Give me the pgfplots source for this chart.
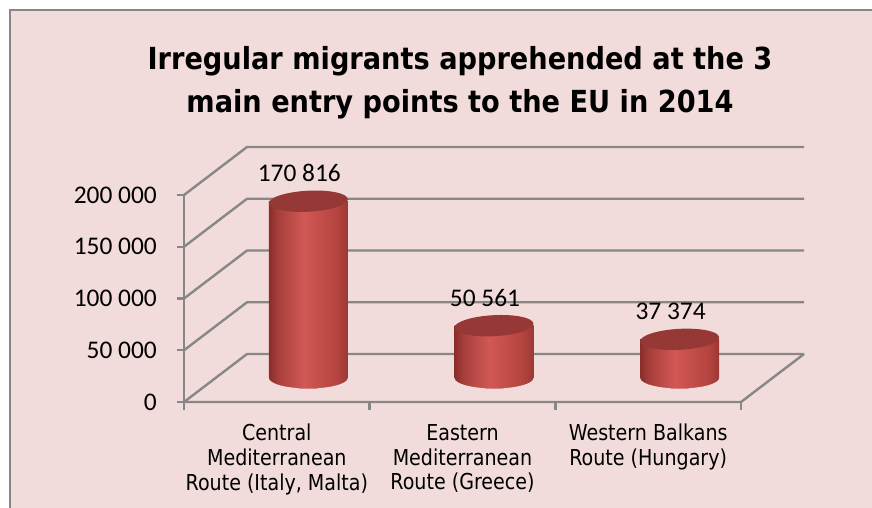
\documentclass[border=0pt]{standalone}
\usepackage{pgfplots}
\pgfplotsset{compat=1.18}
\usepackage{fontspec}
\setmainfont{Carlito}
\newfontfamily\tah{DejaVu Sans}[FakeStretch=0.87]
\newfontfamily\tahtitle{DejaVu Sans}[FakeStretch=0.895]
\definecolor{bg}{HTML}{F2DCDB}
\definecolor{gridc}{HTML}{878787}
\definecolor{cdark}{HTML}{8A2D2A}
\definecolor{cmidA}{HTML}{A83F3C}
\definecolor{clight}{HTML}{D15855}
\definecolor{cmidB}{HTML}{B5443F}
\definecolor{cright}{HTML}{9C3835}
\definecolor{ctop}{HTML}{963836}
\pgfdeclarehorizontalshading{cyl}{100bp}{color(0bp)=(cdark); color(25bp)=(cdark); color(31bp)=(cmidA); color(47bp)=(clight); color(68bp)=(cmidB); color(75bp)=(cright); color(100bp)=(cright)}
\pgfdeclareplotmark{cyltop}{%
  \pgfpathellipse{\pgfpointorigin}{\pgfpointpolar{3}{39.5bp}}{\pgfpointpolar{93}{10.5bp}}%
  \pgfusepath{fill}}
\pgfdeclareplotmark{cylcorner}{%
  \pgfpathmoveto{\pgfpoint{-41bp}{0bp}}%
  \pgfpathlineto{\pgfpoint{-39.5bp}{0bp}}%
  \pgfpatharc{180}{270}{39.5bp and 10.5bp}%
  \pgfpathlineto{\pgfpoint{-41bp}{-11.5bp}}%
  \pgfpathclose
  \pgfpathmoveto{\pgfpoint{41bp}{0bp}}%
  \pgfpathlineto{\pgfpoint{39.5bp}{0bp}}%
  \pgfpatharc{0}{-90}{39.5bp and 10.5bp}%
  \pgfpathlineto{\pgfpoint{41bp}{-11.5bp}}%
  \pgfpathclose
  \pgfusepath{fill}}
\pgfplotsset{cylbody/.style={ybar, bar width=79bp, bar shift=0pt, draw=none, shade, shading=cyl}}
\begin{document}
\begin{tikzpicture}
\useasboundingbox (0,0) rectangle (872bp,-508bp);
\fill[white] (0,0) rectangle (872bp,-508bp);
\fill[bg] (10bp,-10bp) rectangle (872bp,-508bp);
\draw[gridc, line width=2bp] (10bp,-508bp) -- (10bp,-10bp) -- (872bp,-10bp);
\node[font=\tahtitle\bfseries\fontsize{30.5}{36}\selectfont, anchor=base] at (460bp,-69bp) {Irregular migrants apprehended at the 3};
\node[font=\tahtitle\bfseries\fontsize{30.5}{36}\selectfont, anchor=base] at (460bp,-112bp) {main entry points to the EU in 2014};
\begin{axis}[
  at={(184bp,-402bp)}, anchor=south west,
  scale only axis, width=620bp, height=255bp,
  xmin=-0.6697, xmax=2.6697, ymin=-23188, ymax=223188,
  clip=false, scaled y ticks=false,
  axis line style={draw=none},
  major tick length=0pt, tick style={draw=none},
  ytick={-23188,26812,76812,126812,176812},
  yticklabels={0,50 000,100 000,150 000,200 000},
  yticklabel style={font=\fontsize{25.5}{28}\selectfont, inner sep=0pt, xshift=-27bp},
  xtick={-0.1697,0.8303,1.8303},
  xticklabels={{Central\\Mediterranean\\Route (Italy, Malta)},{Eastern\\Mediterranean\\Route (Greece)},{Western Balkans\\Route (Hungary)}},
  xticklabel style={font=\tah\fontsize{22}{25}\selectfont, align=center, inner sep=0pt, yshift=-22bp, anchor=north},
]
% gridlines (left wall + back wall)
\pgfplotsinvokeforeach{0,50000,100000,150000,200000}{
  \addplot[gridc, line width=2.4bp, forget plot] coordinates {(-0.6697,#1-23188) (-0.3303,#1+23188) (2.6697,#1+23188)};
  \addplot[gridc, line width=2.4bp, forget plot] coordinates {(-0.7074,#1-23188) (-0.6697,#1-23188)};
}
% floor
\addplot[gridc, line width=2.4bp, forget plot] coordinates {(-0.6697,-23188) (2.3303,-23188) (2.6697,23188)};
% front value axis
\addplot[gridc, line width=2.4bp, forget plot] coordinates {(-0.6697,-23188) (-0.6697,176812)};
% category boundary ticks
\pgfplotsinvokeforeach{-0.6697,0.3303,1.3303,2.3303}{
  \addplot[gridc, line width=2.4bp, forget plot] coordinates {(#1,-23188) (#1,-30917)};
}
% cylinder bottom caps (depth of the rounded base), rounded off by background corners
\addplot[cylbody, forget plot] coordinates {(0,-10145)};
\addplot[cylbody, forget plot] coordinates {(1,-10145)};
\addplot[cylbody, forget plot] coordinates {(2,-10145)};
\addplot[only marks, mark=cylcorner, mark options={fill=bg, draw=none}, forget plot] coordinates {(0,0) (1,0) (2,0)};
% cylinder bodies
\pgfplotsset{every node near coord/.append style={font=\fontsize{25.5}{28}\selectfont, text=black, inner sep=0pt, xshift=-9bp, yshift=19bp}}
\addplot[cylbody, nodes near coords, point meta=explicit symbolic] coordinates {(0,170816) [170 816]};
\addplot[cylbody, nodes near coords, point meta=explicit symbolic] coordinates {(1,50561) [50 561]};
\addplot[cylbody, nodes near coords, point meta=explicit symbolic] coordinates {(2,37374) [37 374]};
% cylinder tops
\addplot[only marks, mark=cyltop, mark options={fill=ctop, draw=none}, forget plot] coordinates {(0,170816) (1,50561) (2,37374)};
\end{axis}
\end{tikzpicture}
\end{document}
